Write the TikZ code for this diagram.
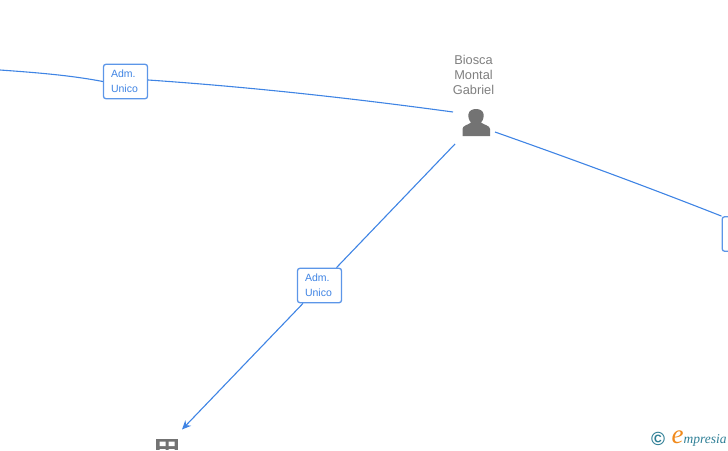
\documentclass[tikz,border=0pt]{standalone}
\usepackage{fontspec}
\usetikzlibrary{arrows.meta}
\setmainfont{Liberation Sans}
\newfontfamily\logofont{Liberation Serif}
\definecolor{linkblue}{HTML}{3F84E4}
\definecolor{boxblue}{HTML}{5C96E8}
\definecolor{icongray}{HTML}{737373}
\definecolor{namegray}{HTML}{7F7F7F}
\definecolor{logoteal}{HTML}{2F7F96}
\definecolor{logoorange}{HTML}{F08A1D}
\begin{document}
\begin{tikzpicture}[x=1pt,y=-1pt,
  link/.style={draw=linkblue,line width=1.1pt},
  rolebox/.style={draw=boxblue,line width=1.3pt,rounded corners=2.5pt,fill=white,minimum width=44pt,minimum height=34.5pt,inner sep=0pt,inner xsep=7.5pt,text width=29pt,align=left,text=linkblue,font=\fontsize{10.5}{14.6}\selectfont},
  namelabel/.style={inner sep=0pt,align=center,text=namegray,font=\fontsize{12.8}{15}\selectfont},
  icon/.style={fill=icongray,draw=none}]
\useasboundingbox (0,0) rectangle (728,450);
\clip (0,0) rectangle (728,450);
\coordinate (leftend) at (0,70);
\coordinate (personW) at (453,112);
\coordinate (personE) at (495,132);
\coordinate (personS) at (455,144);
\coordinate (arrowend) at (182,429.5);
\node[rolebox] (box1) at (125.5,81.5) {\raisebox{-0.8pt}{Adm.}\\\raisebox{-0.8pt}{Unico}};
\node[rolebox] (box2) at (319.5,285.5) {\raisebox{-0.8pt}{Adm.}\\\raisebox{-0.8pt}{Unico}};
\node[rolebox,anchor=west] (box3) at (721.5,234) {};
\draw[link] (leftend) .. controls (35,72.5) and (70,75.2) .. (box1.west);
\draw[link] (box1.east) ++(0,-1.5) coordinate (b1e) (b1e) .. controls (250,87) and (350,98) .. (personW);
\draw[link] (personE) .. controls (580,162) and (650,188) .. (box3.north west);
\draw[link] ([xshift=17pt]box2.north) -- (personS);
\draw[link,-{Stealth[length=9pt,width=8pt]}] ([xshift=-16.5pt]box2.south) -- (arrowend);
\node[namelabel] (person) at (473.5,75) {Biosca\\Montal\\Gabriel};
% person icon
\fill[icon] (462.5,136) -- (462.5,129) .. controls (462.5,125.5) and (468,125) .. (471,122.5)
  .. controls (468.5,120) and (468,116) .. (468.5,114) .. controls (469,110.5) and (472.5,109) .. (476,109)
  .. controls (479.5,109) and (483,110.5) .. (483.5,114) .. controls (484,116) and (483.5,120) .. (481,122.5)
  .. controls (484,125) and (490,125.5) .. (490,129) -- (490,136) -- cycle;
% building icon
\fill[icon] (156,438.5) rectangle (178,450);
\fill[white] (159.5,441.5) rectangle (165.5,446) (168.5,441.5) rectangle (174.5,446);
\fill[white] (159.5,449) rectangle (165.5,452) (168.5,449) rectangle (174.5,452);
% logo
\node[inner sep=0pt,text=logoteal,font=\bfseries\fontsize{19}{19}\selectfont] (copyr) at (658,439) {©};
\node[inner sep=0pt,text=logoorange,font=\logofont\itshape\fontsize{27}{27}\selectfont] (logoe) at (677.5,437.5) {e};
\node[inner sep=0pt,anchor=base west,text=logoteal,font=\logofont\itshape\fontsize{13.5}{13.5}\selectfont] (logom) at (683.5,443) {mpresia};
\end{tikzpicture}
\end{document}
